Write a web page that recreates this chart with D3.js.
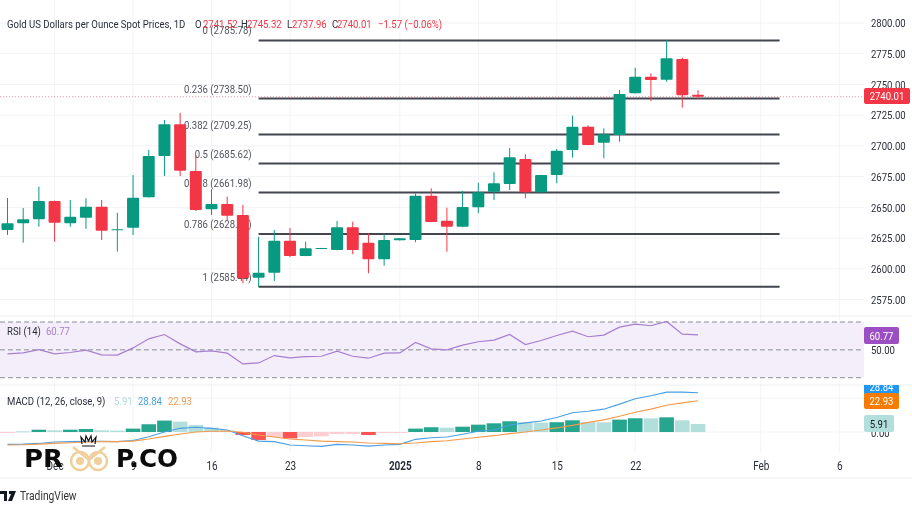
<!DOCTYPE html>
<html>
<head>
<meta charset="utf-8">
<script src="https://cdn.jsdelivr.net/npm/d3@7"></script>
<style>
  html, body { margin: 0; padding: 0; background: #fff; overflow: hidden; }
  svg { display: block; filter: blur(0.35px); }
  text { font-family: "Roboto", sans-serif; font-size: 11.5px; fill: #2a2e39; }
  .axis path { display: none; }
  .axis line { display: none; }
</style>
</head>
<body>
<div id="wrapper"></div>
<script>
const dates = ["Nov 27","Nov 28","Nov 29","Dec 2","Dec 3","Dec 4","Dec 5","Dec 6","Dec 9","Dec 10","Dec 11","Dec 12","Dec 13","Dec 16","Dec 17","Dec 18","Dec 19","Dec 20","Dec 23","Dec 24","Dec 25","Dec 26","Dec 27","Dec 30","Dec 31","Jan 1","Jan 2","Jan 3","Jan 6","Jan 7","Jan 8","Jan 9","Jan 10","Jan 13","Jan 14","Jan 15","Jan 16","Jan 17","Jan 20","Jan 21","Jan 22","Jan 23","Jan 24","Jan 27","Jan 28"]

const open = [2631.6,2637,2640.3,2655.2,2637,2641.6,2650.5,2631.9,2633.4,2658.2,2691.8,2717.6,2679.6,2648.4,2652.7,2643.8,2592.8,2596.8,2622.9,2610.4,2616.4,2615.3,2633.8,2621.2,2607.7,2623.2,2623.4,2659.5,2639.1,2634.2,2650,2662.7,2669,2689.3,2662.2,2676.3,2696.7,2715.6,2702.6,2708.9,2742.8,2756.3,2753.9,2770.7,2741.52]
const high = [2657.6,2649.5,2666.8,2655.5,2656,2657.4,2656,2645.6,2676.3,2696.7,2721.1,2726.8,2692.6,2664.7,2658.7,2651.9,2626.1,2631.6,2633.2,2622,2617,2638.9,2638.3,2628.9,2628.3,2625,2661.4,2665.5,2649.7,2663.3,2670.1,2678.5,2698.3,2693.2,2676.5,2697.5,2724.6,2716.8,2714.3,2745.5,2763.6,2759.1,2786.2,2771.8,2745.32]
const low = [2627.5,2621.2,2634.2,2622,2634.2,2632.4,2623.4,2613.9,2627.5,2658,2675.5,2675.5,2647,2643.8,2639.7,2588.2,2585.4,2590.1,2609.4,2610.2,2616.2,2615.1,2611.8,2596.3,2602.5,2623,2621.6,2638,2613.9,2633.8,2645.2,2656,2664.1,2657.4,2661.4,2669.6,2690.4,2700.5,2689.9,2703.4,2742.6,2736.5,2752.2,2731.1,2737.96]
const close = [2637,2640.3,2655.2,2637.5,2642.4,2650.5,2631,2632.1,2657.8,2691.8,2717.6,2679.8,2647.8,2652.7,2643.2,2592.3,2596.8,2622.9,2610.4,2616.7,2616.9,2633.8,2615.3,2607.7,2623.4,2624.8,2659.5,2638.1,2634.2,2650.3,2662.2,2669.6,2690.7,2662.2,2676.3,2696.1,2715.6,2700.7,2709.4,2742.2,2756.3,2753.6,2771.3,2741.2,2740.01]

const rsi = [47.1,47.8,50.2,47.1,48.1,49.8,46.4,46.2,51.4,57.9,61,54.3,48.6,49.3,47.6,39.9,40.6,45.9,44.2,45.2,45.4,49,45.4,44,47.6,47.8,55.3,50.7,50,53.4,55.8,57,61,53.8,56.7,60.3,63.4,59.4,60.6,66.3,68.5,67.3,70.4,61.3,60.77]
const macd = [-9.1,-8.9,-8.4,-7.4,-7.1,-6.9,-6.9,-7.1,-6.2,-3.5,0,2.7,3.5,2.7,1.5,-2.7,-6.7,-7.1,-9.6,-10.1,-10.6,-9.1,-9.6,-10.4,-9.6,-9.1,-5.4,-4.2,-3.7,-1.7,0.5,1.5,5.2,6.7,8.1,10.6,14.1,15.3,16.8,20.5,24.4,26.6,29.3,29.3,28.84]
const signal = [-9.6,-9.4,-8.9,-8.4,-7.9,-7.4,-7.1,-7.1,-6.7,-5.2,-3.2,-1.5,0,0.5,0.7,-0.2,-2.2,-3.7,-5.2,-5.9,-6.7,-7.1,-7.4,-8.1,-8.4,-8.6,-8.1,-7.1,-6.4,-5.2,-3.9,-2.7,-1.2,0,1.5,3,4.9,7.1,8.9,11.6,14.5,16.8,19.7,21.4,22.93]
const hist = [-0.5,0.5,1.7,1.2,1.7,2.2,1.2,1,2.5,5.7,8.4,7.6,5.2,3.2,1.2,-2.2,-5.9,-3.9,-4.7,-3.7,-3.2,-1.5,-1.4,-2.2,-0.7,-0.5,2.5,3.5,3.2,3.9,5.4,6.4,7.9,7.2,6.9,7.2,8.6,7.2,7.1,9.1,10.1,10,10.8,8.6,5.91]

const priceTicks = [2800,2775,2750,2725,2700,2675,2650,2625,2600,2575]
const fibRatios = ["0","0.236","0.382","0.5","0.618","0.786","1"]
const fibPrices = [2785.78,2738.50,2709.25,2685.62,2661.98,2628.31,2585.44]
const fibStart = 16
const fibEnd = 49.2
const timeTicks = [3,8,13,18,25,30,35,40,48,53]
const timeLabels = ["Dec","9","16","23","2025","8","15","22","Feb","6"]

const green = "#089981"
const red = "#f23645"

const width = 912
const height = 513
const paneRight = 864

const x = d3.scaleLinear().domain([0, 44]).range([7.5, 698])
const y = d3.scaleLinear().domain([2800, 2575]).range([23, 299.5])
const yRsi = d3.scaleLinear().domain([70, 30]).range([322, 377.7])
const yMacd = d3.scaleLinear().domain([25, 0]).range([398, 432])

const svg = d3.select("#wrapper").append("svg")
  .attr("width", width)
  .attr("height", height)

svg.append("clipPath").attr("id", "macdClip")
  .append("rect").attr("x", 0).attr("y", 385).attr("width", width).attr("height", 67)

// grid
const grid = svg.append("g").attr("stroke", "#f2f3f6").attr("stroke-width", 1)
grid.selectAll(".h").data(priceTicks).enter().append("line")
  .attr("x1", 0).attr("x2", paneRight)
  .attr("y1", d => y(d)).attr("y2", d => y(d))
grid.selectAll(".h2").data([25, 0]).enter().append("line")
  .attr("x1", 0).attr("x2", paneRight)
  .attr("y1", d => yMacd(d)).attr("y2", d => yMacd(d))
grid.selectAll(".v").data(timeTicks).enter().append("line")
  .attr("x1", d => x(d)).attr("x2", d => x(d))
  .attr("y1", 0).attr("y2", 452)

// pane separators
const seps = svg.append("g").attr("stroke", "#eceef2")
seps.selectAll("line").data([316, 385, 478]).enter().append("line")
  .attr("x1", 0).attr("x2", width)
  .attr("y1", d => d).attr("y2", d => d)

// fib labels sit under the candles
svg.append("g").selectAll("text").data(fibRatios).enter().append("text")
  .attr("x", x(fibStart) - 7)
  .attr("y", (d, i) => y(fibPrices[i]) - 6)
  .attr("text-anchor", "end")
  .style("fill", "#50535e")
  .text((d, i) => `${d} (${fibPrices[i].toFixed(2)})`)

// fib lines
svg.append("g").selectAll("line").data(fibPrices).enter().append("line")
  .attr("x1", x(fibStart)).attr("x2", x(fibEnd))
  .attr("y1", d => y(d)).attr("y2", d => y(d))
  .attr("stroke", "#434651").attr("stroke-width", 2)

// last price line
svg.append("line")
  .attr("x1", 0).attr("x2", paneRight)
  .attr("y1", y(close[44])).attr("y2", y(close[44]))
  .attr("stroke", "#f23645").attr("stroke-opacity", 0.55)
  .attr("stroke-dasharray", "1 2")

// candles
const candle = svg.append("g").selectAll("g").data(dates).enter().append("g")
const isUp = i => close[i] >= open[i]
candle.append("line")
  .attr("x1", (d, i) => x(i)).attr("x2", (d, i) => x(i))
  .attr("y1", (d, i) => y(high[i])).attr("y2", (d, i) => y(low[i]))
  .attr("stroke", (d, i) => isUp(i) ? green : red)
candle.append("rect")
  .attr("x", (d, i) => x(i) - 6)
  .attr("width", 12)
  .attr("y", (d, i) => y(Math.max(open[i], close[i])))
  .attr("height", (d, i) => Math.max(1, Math.abs(y(open[i]) - y(close[i]))))
  .attr("rx", 1)
  .attr("fill", (d, i) => isUp(i) ? green : red)

// rsi
svg.append("rect")
  .attr("x", 0).attr("width", paneRight)
  .attr("y", yRsi(70)).attr("height", yRsi(30) - yRsi(70))
  .attr("fill", "#f3eefa")
svg.append("g").selectAll("line").data([70, 50, 30]).enter().append("line")
  .attr("x1", 0).attr("x2", paneRight)
  .attr("y1", d => yRsi(d)).attr("y2", d => yRsi(d))
  .attr("stroke", "#8a8d98").attr("stroke-dasharray", "5 3")

const lineOf = (values, scale) => d3.line()
  .x((d, i) => x(i))
  .y(d => scale(d))(values)

svg.append("path")
  .attr("d", lineOf(rsi, yRsi))
  .attr("fill", "none").attr("stroke", "#a77fd0").attr("stroke-width", 1.2)

// macd histogram
const faded = i => {
  const v = hist[i]
  if (Math.abs(v) <= 0.5) return true
  return Math.abs(v) < Math.abs(hist[i - 1] || 0)
}
const histColor = i => hist[i] >= 0
  ? (faded(i) ? "#b2dfdb" : "#26a68f")
  : (faded(i) ? "#ffcdd2" : "#ff5252")
svg.append("g").selectAll("rect").data(hist).enter().append("rect")
  .attr("x", (d, i) => x(i) - 7.3)
  .attr("width", 14.6)
  .attr("y", d => Math.min(yMacd(d), yMacd(0)))
  .attr("height", d => Math.max(1, Math.abs(yMacd(d) - yMacd(0))))
  .attr("fill", (d, i) => histColor(i))

svg.append("path")
  .attr("d", lineOf(macd, yMacd))
  .attr("fill", "none").attr("stroke", "#4a9fe3").attr("stroke-width", 1.1)
svg.append("path")
  .attr("d", lineOf(signal, yMacd))
  .attr("fill", "none").attr("stroke", "#f39a4d").attr("stroke-width", 1.1)

// axes
const priceAxis = d3.axisRight(y)
  .tickValues(priceTicks)
  .tickFormat(d3.format(".2f"))
  .tickSize(0)
  .tickPadding(7)
svg.append("g").attr("class", "axis")
  .attr("transform", `translate(${paneRight},0)`)
  .call(priceAxis)

const rsiAxis = d3.axisRight(yRsi)
  .tickValues([50])
  .tickFormat(d3.format(".2f"))
  .tickSize(0)
  .tickPadding(7)
svg.append("g").attr("class", "axis")
  .attr("transform", `translate(${paneRight},0)`)
  .call(rsiAxis)

const macdAxis = d3.axisRight(yMacd)
  .tickValues([0])
  .tickFormat(d3.format(".2f"))
  .tickSize(0)
  .tickPadding(7)
svg.append("g").attr("class", "axis")
  .attr("transform", `translate(${paneRight},1)`)
  .call(macdAxis)

const timeAxis = d3.axisBottom(x)
  .tickValues(timeTicks)
  .tickFormat((d, i) => timeLabels[i])
  .tickSize(0)
  .tickPadding(0)
svg.append("g").attr("class", "axis")
  .attr("transform", "translate(0,461)")
  .call(timeAxis)
  .selectAll("text")
  .style("font-size", "12px")
  .style("font-weight", d => d === 25 ? "bold" : "normal")

// right hand value tags
function tag(parent, top, w, h, color, textColor, value) {
  parent.append("rect")
    .attr("x", paneRight).attr("y", top).attr("width", w).attr("height", h)
    .attr("rx", 2).attr("fill", color)
  parent.append("text")
    .attr("x", paneRight + w / 2).attr("y", top + h / 2 + 4)
    .attr("text-anchor", "middle")
    .style("fill", textColor)
    .text(value)
}
tag(svg, 88, 46, 16, red, "#fff", close[44].toFixed(2))
tag(svg, 327, 35, 17, "#9c4fc2", "#fff", rsi[44].toFixed(2))
const macdTags = svg.append("g").attr("clip-path", "url(#macdClip)")
tag(macdTags, 379, 35, 16, "#2196f3", "#fff", macd[44].toFixed(2))
tag(svg, 393, 35, 16, "#f57c00", "#fff", signal[44].toFixed(2))
tag(svg, 415, 30, 17, "#b2dfdb", "#131722", hist[44].toFixed(2))

// header
const header = svg.append("g").attr("transform", "translate(0,28)")
header.append("text").attr("x", 7).text("Gold US Dollars per Ounce Spot Prices, 1D")
const ohlcLabels = ["O", "H", "L", "C"]
const ohlcValues = [open[44], high[44], low[44], close[44]]
const ohlcLeft = [195, 241, 287, 332]
const ohlcGap = [8, 6, 5, 5]
ohlcLabels.forEach((label, i) => {
  header.append("text").attr("x", ohlcLeft[i]).text(label)
  header.append("text").attr("x", ohlcLeft[i] + ohlcGap[i])
    .style("fill", red).text(ohlcValues[i].toFixed(2))
})
header.append("text").attr("x", 378).style("fill", red).text("\u22121.57 (\u22120.06%)")

// indicator legends
const rsiLegend = svg.append("g").attr("transform", "translate(7,335)")
rsiLegend.append("text").text("RSI (14)")
rsiLegend.append("text").attr("x", 39).style("fill", "#a77fd0").text(rsi[44].toFixed(2))
const macdLegend = svg.append("g").attr("transform", "translate(7,405)")
macdLegend.append("text").text("MACD (12, 26, close, 9)")
macdLegend.append("text").attr("x", 107).style("fill", "#b2dfdb").text(hist[44].toFixed(2))
macdLegend.append("text").attr("x", 131).style("fill", "#4a9fe3").text(macd[44].toFixed(2))
macdLegend.append("text").attr("x", 161).style("fill", "#f39a4d").text(signal[44].toFixed(2))

// text in the source runs narrow, so squeeze everything set so far
function squeeze(sel, factor) {
  sel.each(function() {
    const len = this.getComputedTextLength()
    d3.select(this)
      .attr("textLength", len * factor)
      .attr("lengthAdjust", "spacingAndGlyphs")
  })
}
squeeze(svg.selectAll("text"), 0.83)

// watermark logo
const logo = svg.append("g")
logo.append("text").attr("x", 24).attr("y", 467).attr("textLength", 39)
  .attr("lengthAdjust", "spacingAndGlyphs")
  .style("font-family", "'DejaVu Sans', sans-serif").style("font-size", "25px").style("font-weight", "bold")
  .style("fill", "#0b0b0b").text("PR")
logo.append("text").attr("x", 116).attr("y", 467).attr("textLength", 62)
  .attr("lengthAdjust", "spacingAndGlyphs")
  .style("font-family", "'DejaVu Sans', sans-serif").style("font-size", "25px").style("font-weight", "bold")
  .style("fill", "#0b0b0b").text("P.CO")
const owl = logo.append("g").attr("fill", "none").attr("stroke", "#efcf9b")
owl.selectAll("circle.o").data([80, 98]).enter().append("circle")
  .attr("cx", d => d).attr("cy", 461).attr("r", 9).attr("stroke-width", 2.5)
owl.selectAll("circle.p").data([80, 98]).enter().append("circle")
  .attr("cx", d => d).attr("cy", 461).attr("r", 4).attr("fill", "#efcf9b").attr("stroke", "none")
owl.append("path").attr("stroke-width", 2.5).attr("d", "M73 447 L89 460 L105 447")
logo.append("path").attr("fill", "none").attr("stroke", "#111").attr("stroke-width", 1.2)
  .attr("d", "M82 446 L95 446 M82 444 L81 437 L85 442 L86 436 L88.5 441 L91 436 L92 442 L96 437 L95 444")

// tradingview mark
const tv = svg.append("g")
tv.append("path").attr("fill", "#131722")
  .attr("d", "M0 491 H7 V501 H4 V494 H0 Z M9 491 H16 L12 501 H8 L11 494 H9 Z")
const tvText = tv.append("text").attr("x", 20).attr("y", 500).style("font-size", "13px")
  .style("fill", "#333").text("TradingView")
squeeze(tvText, 0.79)
</script>
</body>
</html>
